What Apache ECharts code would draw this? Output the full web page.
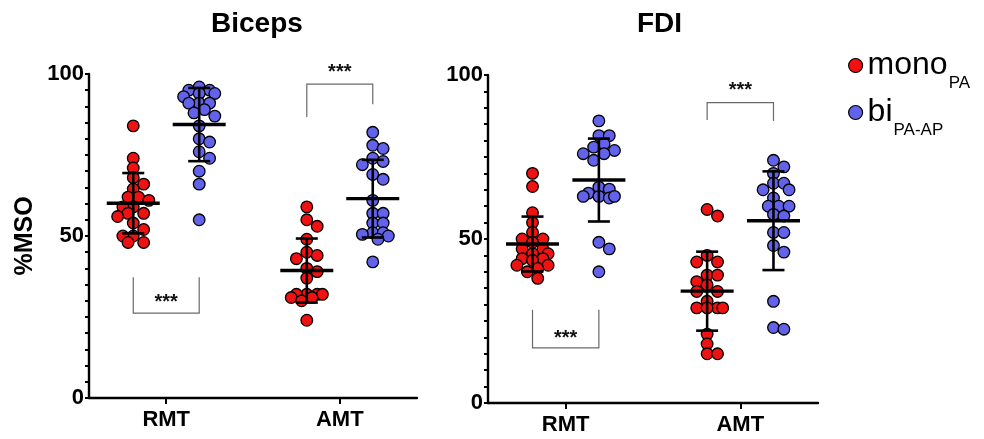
<!DOCTYPE html>
<html><head><meta charset="utf-8">
<script src="https://cdn.jsdelivr.net/npm/echarts@6/dist/echarts.min.js"></script>
<style>html,body{margin:0;padding:0;background:#fff}#c{width:984px;height:439px}</style>
</head><body><div id="c"></div>
<script>
// ---------- data ----------
const categories = ['RMT', 'AMT'];
const panelTitles = ['Biceps', 'FDI'];
const yTickValues = [0, 50, 100];
const groupNames = ['mono', 'bi'];

const bicepsMonoRMT = [84, 74, 71, 68, 66, 64.5, 62, 62, 61, 59, 59, 57, 57, 56, 54, 52, 50, 50, 48, 48];
const bicepsBiRMT   = [96, 95, 95, 94, 94, 93, 91, 91, 91, 89, 88, 87, 84, 80, 79, 76, 74, 70, 66, 55];
const bicepsMonoAMT = [59, 55, 53, 49, 45, 44, 43, 40, 39, 37, 32, 32, 32, 32, 31, 31, 30, 24];
const bicepsBiAMT   = [82, 78, 77, 74, 73, 72, 69, 67.5, 61, 57, 57, 54, 54, 51, 51, 50.5, 50, 49, 42];

const fdiMonoRMT = [70, 66, 58, 55, 52, 50, 50, 49, 47, 47, 45.5, 45.5, 44, 44, 43.5, 42, 42, 41, 40, 38];
const fdiBiRMT   = [86, 81.5, 81.5, 79, 78, 77, 76, 76, 74, 65.8, 65.2, 64, 63, 62.5, 63, 63, 49, 47, 40];
const fdiMonoAMT = [59, 57, 45, 43, 43, 39, 39, 37, 36, 34, 34, 31, 29, 29, 29, 29, 21, 18, 15, 15];
const fdiBiAMT   = [74, 72, 70, 67, 67, 65, 65, 62.5, 60, 60, 60, 57.5, 57, 52, 52, 48, 46, 31, 23, 22.5];

// significance brackets: [category, left leg end, right leg end, bar level, stars level]
const bicepsBrackets = [[0, 37.3, 37.3, 26.2, 29.6], [1, 86.7, 90.7, 96.9, 100.4]];
const fdiBrackets    = [[0, 28.4, 28.4, 16.8, 19.8], [1, 86.3, 86.0, 91.6, 95.2]];
const bracketLabel = '***';

// ---------- styling ----------
const FONT = 'Liberation Sans, Arial, sans-serif';
const colors = { mono: '#ee1212', bi: '#6262ea' };
const SIDE = 0.19;          // group offset from category tick (axis units)
const R = 5.8;               // marker radius px
const SWARM_D = 10.4;        // min centre distance px
const SWARM_MAX = 18;        // max horizontal spread px

const panelData = [
  { mono: [bicepsMonoRMT, bicepsMonoAMT], bi: [bicepsBiRMT, bicepsBiAMT], brackets: bicepsBrackets },
  { mono: [fdiMonoRMT, fdiMonoAMT],       bi: [fdiBiRMT, fdiBiAMT],       brackets: fdiBrackets }
];

function meanSd(arr) {
  const m = arr.reduce((a, b) => a + b, 0) / arr.length;
  const v = arr.reduce((a, b) => a + (b - m) * (b - m), 0) / (arr.length - 1);
  return [m, Math.sqrt(v)];
}

function computeSwarm(vals, ppu, d) {
  const idx = vals.map((v, i) => i).sort((a, b) => vals[b] - vals[a]);
  const placed = [];
  const out = new Array(vals.length).fill(0);
  const step = d / 2;
  const cands = [0];
  for (let k = 1; k * step <= SWARM_MAX + 0.01; k++) { cands.push(k * step, -k * step); }
  idx.forEach(i => {
    const y = vals[i] * ppu;
    let best = null, bestScore = -1;
    for (const cand of cands) {
      const md = placed.reduce((m, p) => Math.min(m, (p.x - cand) ** 2 + (p.y - y) ** 2), Infinity);
      if (md >= d * d * 0.8) { best = cand; break; }
      if (md > bestScore) { bestScore = md; best = cand; }
    }
    out[i] = best; placed.push({ x: best, y });
  });
  return out;
}

const swarmCache = {};
const seriesValues = {};

const series = [];
panelData.forEach((pd, p) => {
  groupNames.forEach((g, gi) => {
    const side = gi === 0 ? -SIDE : SIDE;
    pd[g].forEach((vals, c) => {
      const sIndex = series.length;
      seriesValues[sIndex] = vals;
      series.push({
        type: 'custom', name: g, xAxisIndex: p, yAxisIndex: p,
        itemStyle: { color: colors[g] }, z: 2,
        encode: { x: 0, y: 1 },
        data: vals.map(v => [c + side, v]),
        renderItem: function (params, api) {
          const key = params.seriesIndex;
          if (!swarmCache[key]) {
            const ppu = api.size([0, 1])[1];
            swarmCache[key] = computeSwarm(seriesValues[key], ppu, SWARM_D);
          }
          const pt = api.coord([api.value(0), api.value(1)]);
          return {
            type: 'circle',
            shape: { cx: pt[0] + swarmCache[key][params.dataIndex], cy: pt[1], r: R },
            style: { fill: colors[g], stroke: '#000', lineWidth: 1.3 }
          };
        }
      });
    });
  });
  // mean +/- SD
  const stats = [];
  groupNames.forEach((g, gi) => {
    const side = gi === 0 ? -SIDE : SIDE;
    pd[g].forEach((vals, c) => {
      const [m, sd] = meanSd(vals);
      stats.push([c + side, m, sd]);
    });
  });
  series.push({
    type: 'custom', xAxisIndex: p, yAxisIndex: p, z: 5, silent: true,
    encode: { x: 0, y: 1 },
    data: stats,
    renderItem: function (params, api) {
      const x = api.value(0), m = api.value(1), sd = api.value(2);
      const mp = api.coord([x, m]), tp = api.coord([x, m + sd]), bp = api.coord([x, m - sd]);
      const st = { stroke: '#000', lineWidth: 2.6 };
      return {
        type: 'group', children: [
          { type: 'line', shape: { x1: mp[0] - 26.5, y1: mp[1], x2: mp[0] + 26.5, y2: mp[1] }, style: { stroke: '#000', lineWidth: 3.4 } },
          { type: 'line', shape: { x1: tp[0], y1: tp[1], x2: bp[0], y2: bp[1] }, style: st },
          { type: 'line', shape: { x1: tp[0] - 11, y1: tp[1], x2: tp[0] + 11, y2: tp[1] }, style: st },
          { type: 'line', shape: { x1: bp[0] - 11, y1: bp[1], x2: bp[0] + 11, y2: bp[1] }, style: st }
        ]
      };
    }
  });
  // brackets
  series.push({
    type: 'custom', xAxisIndex: p, yAxisIndex: p, z: 4, silent: true,
    encode: { x: 0, y: 3 },
    data: pd.brackets,
    renderItem: function (params, api) {
      const c = api.value(0);
      const a = api.coord([c - SIDE, api.value(1)]);
      const b = api.coord([c - SIDE, api.value(3)]);
      const e = api.coord([c + SIDE, api.value(3)]);
      const f = api.coord([c + SIDE, api.value(2)]);
      const s = api.coord([c, api.value(4)]);
      return {
        type: 'group', children: [
          { type: 'polyline', shape: { points: [a, b, e, f] }, style: { stroke: '#6a6a6a', lineWidth: 1.2, fill: null } },
          { type: 'text', x: s[0], y: s[1], style: { text: bracketLabel, font: 'bold 20px ' + FONT, fill: '#111', align: 'center', verticalAlign: 'middle' } }
        ]
      };
    }
  });
});

const grids = [
  { left: 89, top: 74, width: 328, height: 324 },
  { left: 488, top: 75, width: 330, height: 328 }
];

const axisLine = { show: true, onZero: false, lineStyle: { color: '#000', width: 2.4 } };

const option = {
  animation: false,
  backgroundColor: '#fff',
  title: [
    { text: panelTitles[0], left: 206, top: 5, textStyle: { fontFamily: FONT, fontSize: 28, fontWeight: 'bold', color: '#000' } },
    { text: panelTitles[1], left: 632, top: 5, textStyle: { fontFamily: FONT, fontSize: 28, fontWeight: 'bold', color: '#000' } }
  ],
  legend: {
    orient: 'vertical', left: 848, top: 39, padding: 0,
    itemWidth: 14, itemHeight: 14, itemGap: -6,
    data: [{ name: 'mono', icon: 'circle' }, { name: 'bi', icon: 'circle' }],
    itemStyle: { borderColor: '#000', borderWidth: 1.2 },
    formatter: n => n === 'mono' ? '{m|mono}{s|PA}' : '{m|bi}{s|PA-AP}',
    textStyle: {
      rich: {
        m: { fontFamily: FONT, fontSize: 32, lineHeight: 30, color: '#000' },
        s: { fontFamily: FONT, fontSize: 17, lineHeight: 17, color: '#000', padding: [36, 0, 0, 1] }
      }
    },
    selectedMode: false
  },
  grid: grids,
  xAxis: [0, 1].map(i => ({
    type: 'value', gridIndex: i, min: -0.445, max: 1.445,
    axisLine: axisLine,
    axisTick: { show: true, customValues: [0, 1], length: 6, lineStyle: { color: '#000', width: 2 } },
    axisLabel: { customValues: [0, 1], formatter: v => categories[Math.round(v)], margin: 11,
      fontFamily: FONT, fontSize: 22, fontWeight: 'bold', color: '#000' },
    splitLine: { show: false }
  })),
  yAxis: [0, 1].map(i => ({
    type: 'value', gridIndex: i, min: yTickValues[0], max: yTickValues[2], interval: 50,
    name: i === 0 ? '%MSO' : '', nameLocation: 'middle', nameRotate: 90, nameGap: 51,
    nameTextStyle: { fontFamily: FONT, fontSize: 25, fontWeight: 'bold', color: '#000' },
    axisLine: axisLine,
    axisTick: { show: true, length: 4, lineStyle: { color: '#000', width: 2 } },
    minorTick: { show: true, splitNumber: 10, length: 4, lineStyle: { color: '#000', width: 2 } },
    axisLabel: { margin: 5, fontFamily: FONT, fontSize: 22, fontWeight: 'bold', color: '#000' },
    splitLine: { show: false }
  })),
  series: series
};

const chart = echarts.init(document.getElementById('c'), null, { renderer: 'canvas' });
chart.setOption(option);
</script>
</body></html>
